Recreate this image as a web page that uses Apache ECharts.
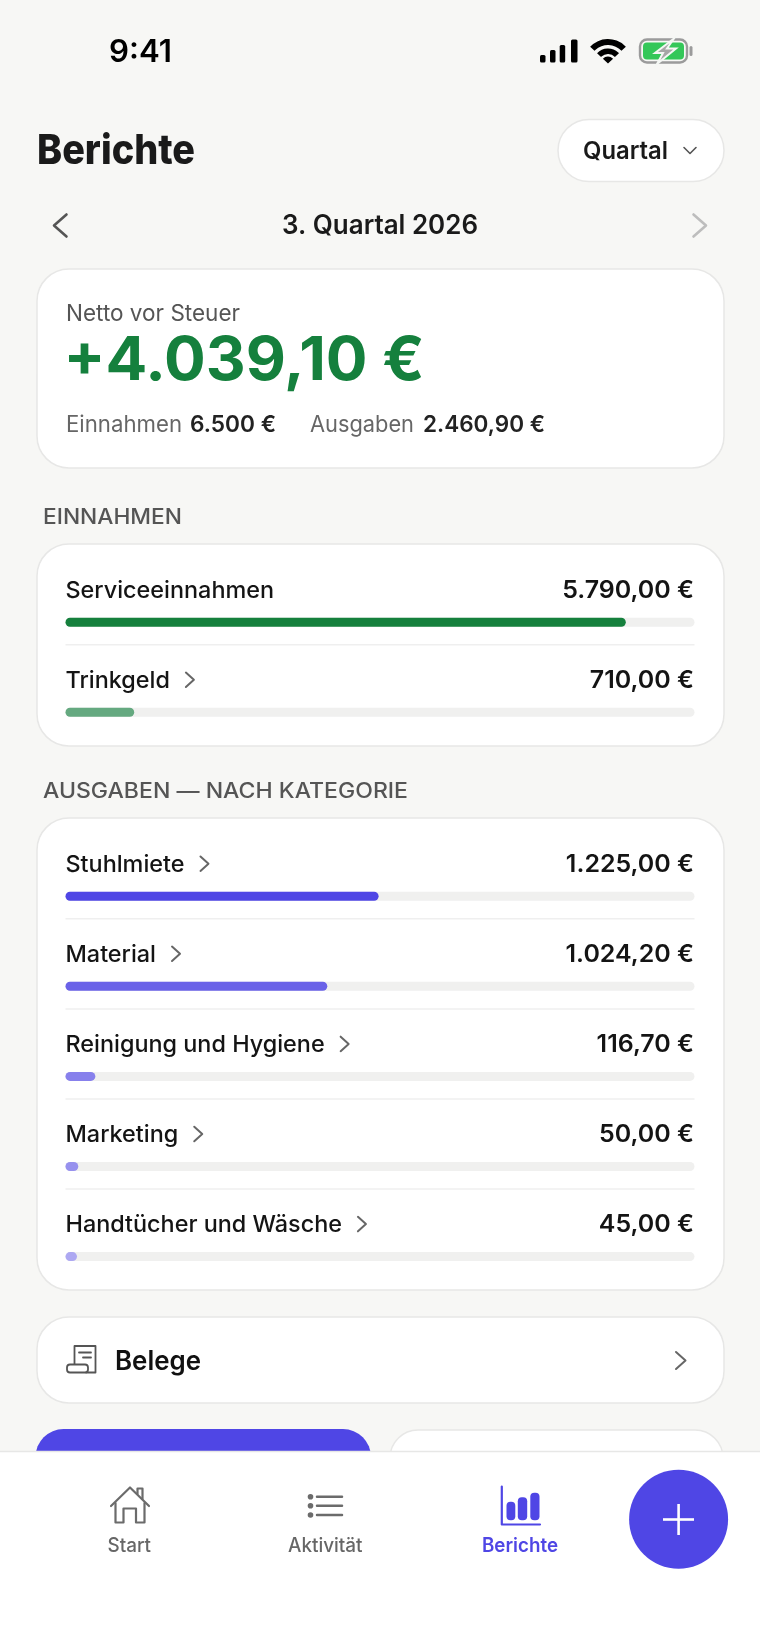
<!DOCTYPE html>
<html lang="de">
<head>
<meta charset="utf-8">
<title>Berichte</title>
<style>
  html, body { margin: 0; padding: 0; background: #f7f7f5; }
  #main { width: 760px; height: 1647px; }
</style>
</head>
<body>
<div id="main"></div>
<script src="https://cdn.jsdelivr.net/npm/echarts@6/dist/echarts.min.js"></script>
<script>
// Daten
const einnahmenKategorien = ['Serviceeinnahmen', 'Trinkgeld'];
const einnahmenWerte = [5790, 710];
const einnahmenGesamt = 6500;
const ausgabenKategorien = ['Stuhlmiete', 'Material', 'Reinigung und Hygiene', 'Marketing', 'Handtücher und Wäsche'];
const ausgabenWerte = [1225, 1024.2, 116.7, 50, 45];
const ausgabenGesamt = 2460.9;
const netto = 4039.1;

const FONT = 'Inter, "Noto Sans", sans-serif';
const INDIGO = '#4f46e5';
const GREEN = '#15803d';
const GREY = '#666666';
const LABEL_SIZE = 23.4;
const VALUE_SIZE = 24;

const euro = (v, digits) => v.toLocaleString('de-DE', { minimumFractionDigits: digits, maximumFractionDigits: 2 }) + ' €';

const measure = document.createElement('canvas').getContext('2d');
function textWidth(str, size, weight) {
    measure.font = weight + ' ' + size + 'px Inter';
    return measure.measureText(str).width;
}

// Text, optional auf eine Zielbreite gestreckt
function txt(str, x, y, size, weight, color, width, align) {
    const scale = width ? width / textWidth(str, size, weight) : 1;
    return {
        type: 'text', x: x, y: y, scaleX: scale,
        style: {
            text: str, fill: color,
            font: weight + ' ' + size + 'px ' + FONT,
            textAlign: align || 'left', textVerticalAlign: 'middle'
        }
    };
}
function card(x, y, w, h, r) {
    return {
        type: 'rect', shape: { x: x, y: y, width: w, height: h, r: r },
        style: { fill: '#fff', stroke: '#e7e7e6', lineWidth: 1.5 }
    };
}
function line(points, color, width) {
    return {
        type: 'polyline', shape: { points: points },
        style: { stroke: color, lineWidth: width, fill: null, lineCap: 'round', lineJoin: 'round' }
    };
}
function box(x, y, w, h, r, fill) {
    return { type: 'rect', shape: { x: x, y: y, width: w, height: h, r: r }, style: { fill: fill } };
}
function chevron(x, y, color, w, h) {
    return line([[x, y - h / 2], [x + w, y], [x, y + h / 2]], color, 2);
}

const graphics = [];

// Statusleiste
graphics.push(txt('9:41', 109, 52.5, 31, 600, '#000', 63));
[[540, 55, 5.5], [550, 50, 5.5], [559.7, 45, 5.5], [571, 39.5, 6.5]].forEach(b => {
    graphics.push(box(b[0], b[1], b[2], 62.5 - b[1], 1.5, '#000'));
});
const wifiA = -Math.PI * 0.76, wifiB = -Math.PI * 0.24;
[[18.5, 24.5], [9.5, 15]].forEach(r => {
    graphics.push({
        type: 'sector',
        shape: { cx: 608, cy: 63.5, r0: r[0], r: r[1], startAngle: wifiA, endAngle: wifiB, clockwise: true },
        style: { fill: '#000' }
    });
});
graphics.push({
    type: 'sector',
    shape: { cx: 608, cy: 63.5, r0: 0, r: 7, startAngle: wifiA, endAngle: wifiB, clockwise: true },
    style: { fill: '#000' }
});
graphics.push(box(643, 42.5, 41, 17, 4, '#34c759'));
graphics.push({
    type: 'rect', shape: { x: 640, y: 39.5, width: 47, height: 23, r: 7 },
    style: { fill: null, stroke: '#9b9b9b', lineWidth: 2.4 }
});
graphics.push(box(689.5, 46, 3, 10, 1.5, '#9b9b9b'));
graphics.push({
    type: 'polygon',
    shape: { points: [[674, 38.5], [655, 53], [663, 53], [657, 64], [676, 48.5], [667, 48.5]] },
    style: { fill: '#a6a6a6', stroke: '#f4f7f4', lineWidth: 2 }
});

// Kopfzeile
graphics.push(txt('Berichte', 37, 151.5, 41, 800, '#1a1a1a', 158));
graphics.push({
    type: 'rect', shape: { x: 558, y: 119.5, width: 166, height: 62, r: 31 },
    style: { fill: '#fff', stroke: '#e7e7e6', lineWidth: 1.5 }
});
graphics.push(txt('Quartal', 583, 152, 24.5, 600, '#1a1a1a', 85));
graphics.push(line([[684, 147.5], [690, 153.5], [696, 147.5]], '#555', 1.6));
graphics.push(line([[66.5, 214.5], [54, 225.5], [66.5, 236.5]], '#555', 2.6));
graphics.push(txt('3. Quartal 2026', 282, 226, 26.5, 600, '#1a1a1a', 196));
graphics.push(line([[693.5, 214.5], [706, 225.5], [693.5, 236.5]], '#bdbdbd', 2.6));

// Netto-Karte
graphics.push(card(37, 269, 687, 199, 32));
graphics.push(txt('Netto vor Steuer', 66, 314, 22.5, 400, '#555', 174));
graphics.push(txt('+' + euro(netto, 2), 63.5, 361.5, 60, 700, GREEN, 361));
graphics.push(txt('Einnahmen', 66, 425, 22.5, 400, GREY, 116));
graphics.push(txt(euro(einnahmenGesamt, 0), 190, 425, 22.5, 600, '#222', 86));
graphics.push(txt('Ausgaben', 310, 425, 22.5, 400, GREY, 104));
graphics.push(txt(euro(ausgabenGesamt, 2), 423, 425, 22.5, 600, '#222', 122));

// Abschnitte
const BAND = 90.1, BAR_LEFT = 65.5, BAR_WIDTH = 629;
const einTop = 622.2 - BAND / 2, ausTop = 896.2 - BAND / 2;
graphics.push(txt('EINNAHMEN', 43, 517.5, 21, 500, '#555', 139));
graphics.push(card(37, 544, 687, 202, 32));
graphics.push(txt('AUSGABEN — NACH KATEGORIE', 43, 791.5, 21, 500, '#555', 365));
graphics.push(card(37, 818, 687, 472, 32));

function rowDecor(categories, values, top, skipFirstChevron) {
    categories.forEach((name, i) => {
        const barY = top + (i + 0.5) * BAND;
        if (i > 0) {
            graphics.push({
                type: 'line', shape: { x1: BAR_LEFT, y1: barY - 67.5, x2: BAR_LEFT + BAR_WIDTH, y2: barY - 67.5 },
                style: { stroke: '#efefef', lineWidth: 1.5 }
            });
        }
        if (!(skipFirstChevron && i === 0)) {
            const x = BAR_LEFT + textWidth(name, LABEL_SIZE, 500) + 16;
            graphics.push(chevron(x, barY - 32.5, '#666', 8, 14.5));
        }
        // Beträge rechtsbündig, etwas gesperrt
        const amount = euro(values[i], 2);
        graphics.push(txt(amount, BAR_LEFT + BAR_WIDTH - 0.5, barY - 31.5, VALUE_SIZE, 600, '#141414',
            textWidth(amount, VALUE_SIZE, 600) * 1.04, 'right'));
    });
}
rowDecor(einnahmenKategorien, einnahmenWerte, einTop, true);
rowDecor(ausgabenKategorien, ausgabenWerte, ausTop, false);

// Belege
graphics.push(card(37, 1317, 687, 86, 32));
graphics.push(line([[74.5, 1364], [74.5, 1346], [95.5, 1346], [95.5, 1372.5], [86, 1372.5]], '#555', 1.8));
graphics.push({
    type: 'rect', shape: { x: 67, y: 1364.5, width: 21, height: 8, r: 3 },
    style: { fill: '#fff', stroke: '#555', lineWidth: 1.8 }
});
graphics.push(line([[79, 1352.5], [91, 1352.5]], '#555', 1.8));
graphics.push(line([[83, 1357.5], [91, 1357.5]], '#555', 1.8));
graphics.push(txt('Belege', 115, 1362, 26.5, 600, '#111', 86));
graphics.push(chevron(676, 1360.5, '#666', 9.5, 17));

// Untere Buttons, von der Tableiste abgeschnitten
graphics.push(box(35.5, 1429, 335.5, 60, 28, INDIGO));
graphics.push(card(390, 1430, 333, 60, 28));

// Tableiste
graphics.push({
    type: 'rect', shape: { x: -2, y: 1451.5, width: 764, height: 200 },
    style: { fill: '#fff', stroke: '#e7e7e6', lineWidth: 1.5 }
});
const HOUSE = '#6b6b6b';
graphics.push(line([[111, 1506], [130, 1487.5], [149, 1506]], HOUSE, 2.2));
graphics.push(line([[115.5, 1503], [115.5, 1522.5], [123.5, 1522.5], [123.5, 1508.5], [136, 1508.5], [136, 1522.5], [144.5, 1522.5], [144.5, 1503]], HOUSE, 2.2));
graphics.push(line([[137.5, 1494], [137.5, 1488.5], [142.5, 1488.5], [142.5, 1499]], HOUSE, 2.2));
graphics.push(txt('Start', 107.5, 1546, 19.5, 500, GREY, 43.5));
[1496.7, 1505.7, 1515].forEach(y => {
    graphics.push({ type: 'circle', shape: { cx: 310.5, cy: y, r: 2.8 }, style: { fill: HOUSE } });
    graphics.push(line([[317, y], [342, y]], HOUSE, 2.5));
});
graphics.push(txt('Aktivität', 288, 1546, 19.5, 500, GREY, 74.5));
graphics.push(line([[501.8, 1486.5], [501.8, 1524.5], [540, 1524.5]], INDIGO, 2.2));
[[506.5, 1501.7, 8.8], [517.8, 1497.3, 9.4], [530.3, 1492.7, 9.2]].forEach(b => {
    graphics.push(box(b[0], b[1], b[2], 1520.2 - b[1], 4, INDIGO));
});
graphics.push(txt('Berichte', 482, 1546, 19.5, 600, INDIGO, 76));
graphics.push({ type: 'circle', shape: { cx: 678.6, cy: 1519.3, r: 49.5 }, style: { fill: INDIGO } });
graphics.push({ type: 'line', shape: { x1: 663, y1: 1519.5, x2: 694, y2: 1519.5 }, style: { stroke: '#fff', lineWidth: 2.6 } });
graphics.push({ type: 'line', shape: { x1: 678.6, y1: 1504, x2: 678.6, y2: 1535 }, style: { stroke: '#fff', lineWidth: 2.6 } });

// Balken
function barSeries(gridIndex, categories, values, total, colors) {
    return [
        {
            type: 'bar', xAxisIndex: gridIndex, yAxisIndex: gridIndex,
            data: values.map(() => total), barWidth: 9, barGap: '-100%', silent: true,
            itemStyle: { color: '#f0f0ef', borderRadius: 4.5 }
        },
        {
            type: 'bar', xAxisIndex: gridIndex, yAxisIndex: gridIndex,
            data: values, barWidth: 9, barGap: '-100%', silent: true,
            itemStyle: { color: p => colors[p.dataIndex], borderRadius: 4.5 },
            label: {
                show: true, fontFamily: FONT, color: '#141414', verticalAlign: 'middle',
                position: [0, -27], align: 'left', fontSize: LABEL_SIZE, fontWeight: 500,
                formatter: p => categories[p.dataIndex]
            }
        }
    ];
}

const chart = echarts.init(document.getElementById('main'));
chart.setOption({
    animation: false,
    backgroundColor: '#f7f7f5',
    grid: [
        { left: BAR_LEFT, top: einTop, width: BAR_WIDTH, height: BAND * einnahmenWerte.length },
        { left: BAR_LEFT, top: ausTop, width: BAR_WIDTH, height: BAND * ausgabenWerte.length }
    ],
    xAxis: [
        { type: 'value', gridIndex: 0, min: 0, max: einnahmenGesamt, show: false },
        { type: 'value', gridIndex: 1, min: 0, max: ausgabenGesamt, show: false }
    ],
    yAxis: [
        { type: 'category', gridIndex: 0, inverse: true, data: einnahmenKategorien, show: false },
        { type: 'category', gridIndex: 1, inverse: true, data: ausgabenKategorien, show: false }
    ],
    graphic: graphics,
    series: barSeries(0, einnahmenKategorien, einnahmenWerte, einnahmenGesamt, [GREEN, '#65a980'])
        .concat(barSeries(1, ausgabenKategorien, ausgabenWerte, ausgabenGesamt, [INDIGO, '#6a62e8', '#8780ec', '#9791ee', '#ada8f2']))
});
</script>
</body>
</html>
